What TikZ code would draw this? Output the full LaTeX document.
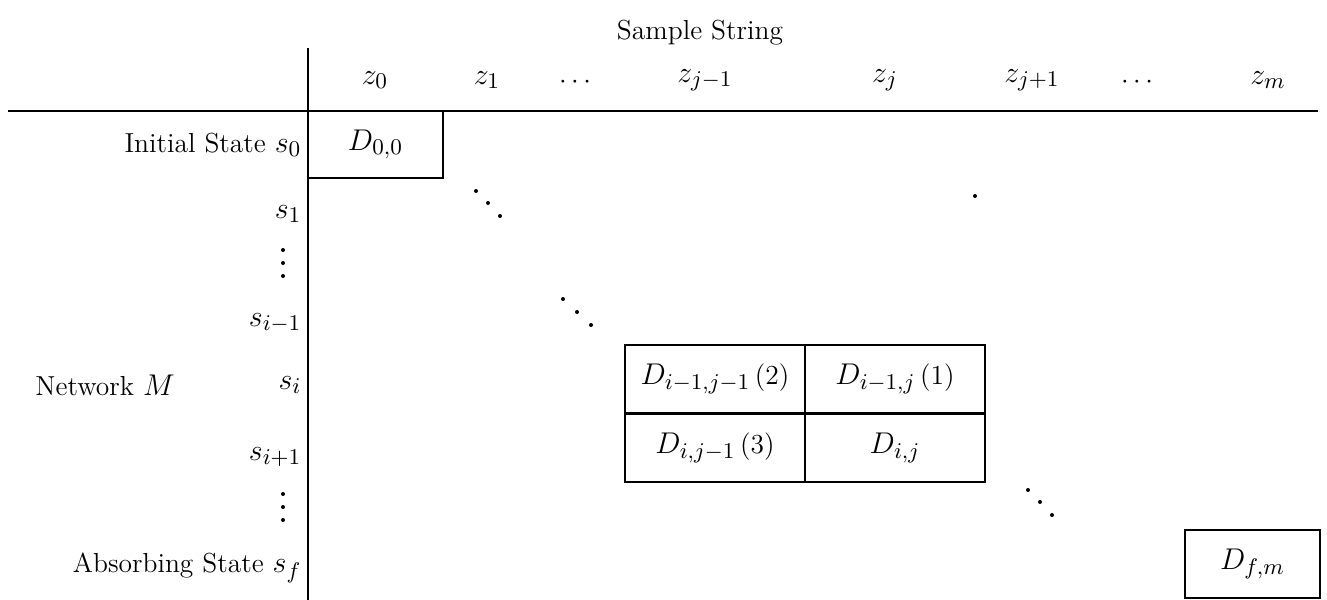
\documentclass[tikz,border=0pt]{standalone}
\newcommand\mm[1]{{\fontsize{12.5}{14}\selectfont$#1$}}
\begin{document}
\begin{tikzpicture}[x=0.4pt,y=-0.4pt,
  every node/.style={font=\fontsize{11}{13}\selectfont, inner sep=0pt},
  cell/.style={draw, line width=0.7pt, minimum width=72pt, minimum height=27.2pt, anchor=center},
  bigcell/.style={draw, line width=0.7pt, minimum width=54pt, minimum height=27pt, anchor=center},
  rowlab/.style={anchor=east},
  rule/.style={line width=0.8pt},
  dotc/.style={fill=black, circle, minimum size=1.6pt}]
\useasboundingbox (0,0) rectangle (1327,600);
% axes
\coordinate (vtop) at (308,48);
\coordinate (vbot) at (308,600);
\coordinate (hl) at (8,111);
\coordinate (hr) at (1318,111);
\draw[rule] (vtop) -- (vbot);
\draw[rule] (hl) -- (hr);
% title
\node (title) at (700,33) {Sample String};
% column labels
\node (z0) at (375,80) {\mm{z_0}};
\node (z1) at (487,80) {\mm{z_1}};
\node (c1) at (575,82) {$\cdots$};
\node (zjm) at (705,80) {\mm{z_{j-1}}};
\node (zj) at (885,80) {\mm{z_j}};
\node (zjp) at (1032,80) {\mm{z_{j+1}}};
\node (c2) at (1137,82) {$\cdots$};
\node (zm) at (1268,80) {\mm{z_m}};
% row labels
\node[rowlab] (r0) at (302,145) {Initial State \mm{s_0}};
\node[rowlab] (r1) at (302,214) {\mm{s_1}};
\node[rowlab] (rim) at (302,323) {\mm{s_{i-1}}};
\node (net) at (105,385) {Network \mm{M}};
\node[rowlab] (ri) at (302,385) {\mm{s_i}};
\node[rowlab] (rip) at (302,457) {\mm{s_{i+1}}};
\node[rowlab] (rf) at (302,568) {Absorbing State \mm{s_f}};
% cells
\node[bigcell] (d00) at (375.5,144.5) {\mm{D_{0,0}}};
\node[cell] (a) at (715,379) {\mm{D_{i-1,j-1}}\,(2)};
\node[cell] (b) at (895,379) {\mm{D_{i-1,j}}\,(1)};
\node[cell] (c) at (715,448) {\mm{D_{i,j-1}}\,(3)};
\node[cell] (d) at (895,448) {\mm{D_{i,j}}};
\node[bigcell] (dfm) at (1252.5,564) {\mm{D_{f,m}}};
% vertical and diagonal dots
\foreach \x/\y in {283/250, 283/263, 283/276, 283/494, 283/507, 283/520,
  476/191, 488/203, 500/216, 563/299, 577/312, 591/325, 1028/490, 1040/502, 1052/515, 975/196}
  \node[dotc] at (\x,\y) {};
\end{tikzpicture}
\end{document}
